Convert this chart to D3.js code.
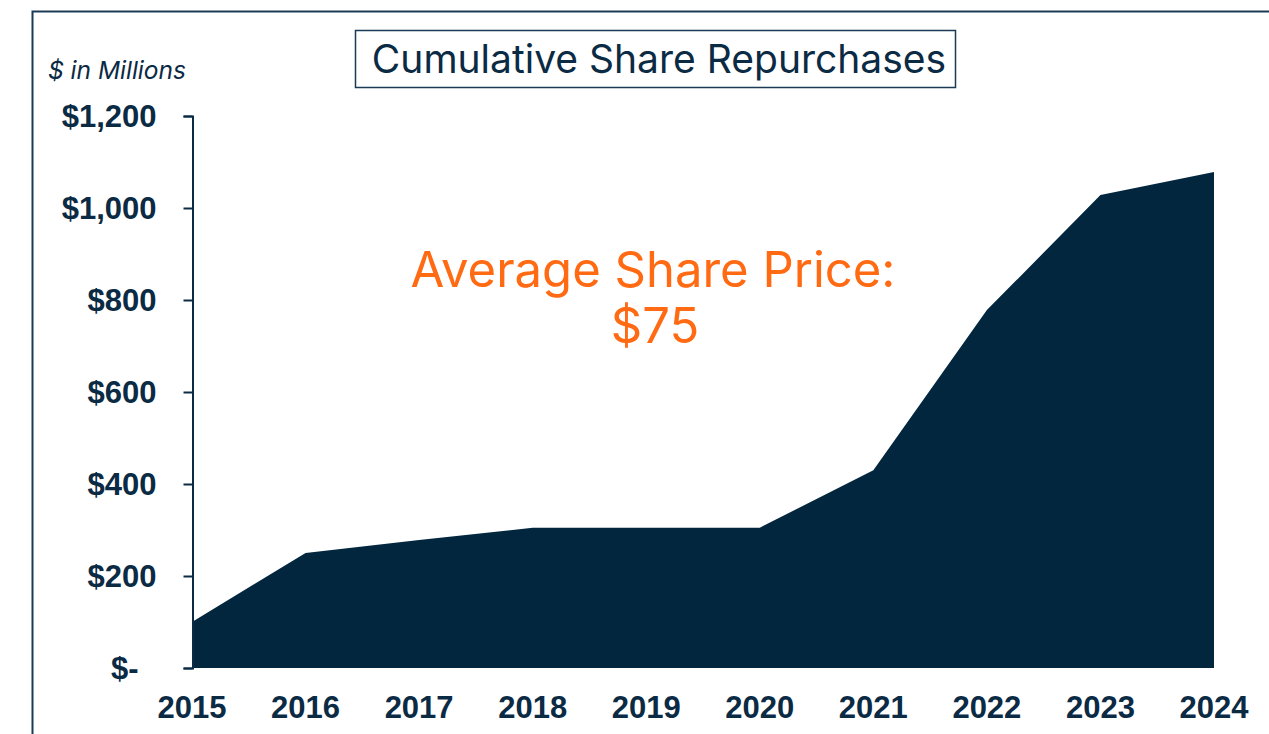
<!DOCTYPE html>
<html>
<head>
<meta charset="utf-8">
<script src="https://cdn.jsdelivr.net/npm/d3@7"></script>
<style>
  html, body { margin: 0; padding: 0; background: #fff; }
  svg { display: block; }
  .tick-label { font-family: "Liberation Sans", Arial, sans-serif; font-weight: bold; font-size: 31px; fill: #0b2a44; }
</style>
</head>
<body>
<svg id="viz" width="1269" height="734"></svg>
<script>
  const years = ["2015", "2016", "2017", "2018", "2019", "2020", "2021", "2022", "2023", "2024"];
  const repurchases = [100, 250, 278, 305, 305, 305, 430, 778, 1028, 1078];
  const yTicks = [0, 200, 400, 600, 800, 1000, 1200];

  const navy = "#02263e";
  const ink = "#0b2a44";
  const orange = "#ff6a13";

  const svg = d3.select("#viz");

  // outer frame (runs off the right and bottom edges)
  svg.append("rect")
    .attr("x", 32.5).attr("y", 11.5)
    .attr("width", 1300).attr("height", 800)
    .attr("fill", "none")
    .attr("stroke", "#1b3a55")
    .attr("stroke-width", 2);

  const x = d3.scalePoint().domain(years).range([192, 1214]).padding(0);
  const y = d3.scaleLinear().domain([0, 1200]).range([668, 116]);

  const data = years.map((yr, i) => ({ year: yr, value: repurchases[i] }));

  const area = d3.area()
    .x(d => x(d.year))
    .y0(y(0))
    .y1(d => y(d.value));

  svg.append("path")
    .datum(data)
    .attr("d", area)
    .attr("fill", navy);

  // y axis
  const yAxis = svg.append("g")
    .attr("transform", "translate(192.5,0)")
    .call(d3.axisLeft(y).tickValues(yTicks).tickSize(9).tickPadding(27)
      .tickFormat(d => d === 0 ? "$-" : d3.format("$,")(d)));
  yAxis.select(".domain").attr("stroke", ink).attr("stroke-width", 2);
  yAxis.selectAll(".tick line").attr("stroke", ink).attr("stroke-width", 2);
  yAxis.selectAll(".tick text")
    .attr("class", "tick-label")
    .attr("dy", "0.35em")
    .attr("dx", d => d === 0 ? -18 : 0);

  // x labels
  svg.append("g")
    .selectAll("text")
    .data(years)
    .join("text")
    .attr("class", "tick-label")
    .attr("x", d => x(d))
    .attr("y", 718)
    .attr("text-anchor", "middle")
    .text(d => d);

  // units label
  svg.append("text")
    .attr("x", 48).attr("y", 79)
    .attr("font-family", "Inter, 'Open Sans', sans-serif")
    .attr("font-style", "italic")
    .attr("font-size", 24.5)
    .attr("fill", ink)
    .text("$ in Millions");

  // title box
  svg.append("rect")
    .attr("x", 355.5).attr("y", 30.5)
    .attr("width", 600).attr("height", 57)
    .attr("fill", "#fff")
    .attr("stroke", "#1b3a55")
    .attr("stroke-width", 1.5);
  svg.append("text")
    .attr("x", 659).attr("y", 73)
    .attr("text-anchor", "middle")
    .attr("font-family", "Inter, 'Open Sans', sans-serif")
    .attr("font-size", 39)
    .attr("fill", ink)
    .text("Cumulative Share Repurchases");

  // annotation
  const note = svg.append("text")
    .attr("text-anchor", "middle")
    .attr("font-family", "Inter, 'Open Sans', sans-serif")
    .attr("font-size", 49)
    .attr("fill", orange);
  note.append("tspan").attr("x", 653).attr("y", 287).text("Average Share Price:");
  note.append("tspan").attr("x", 655).attr("y", 343).text("$75");
</script>
</body>
</html>
